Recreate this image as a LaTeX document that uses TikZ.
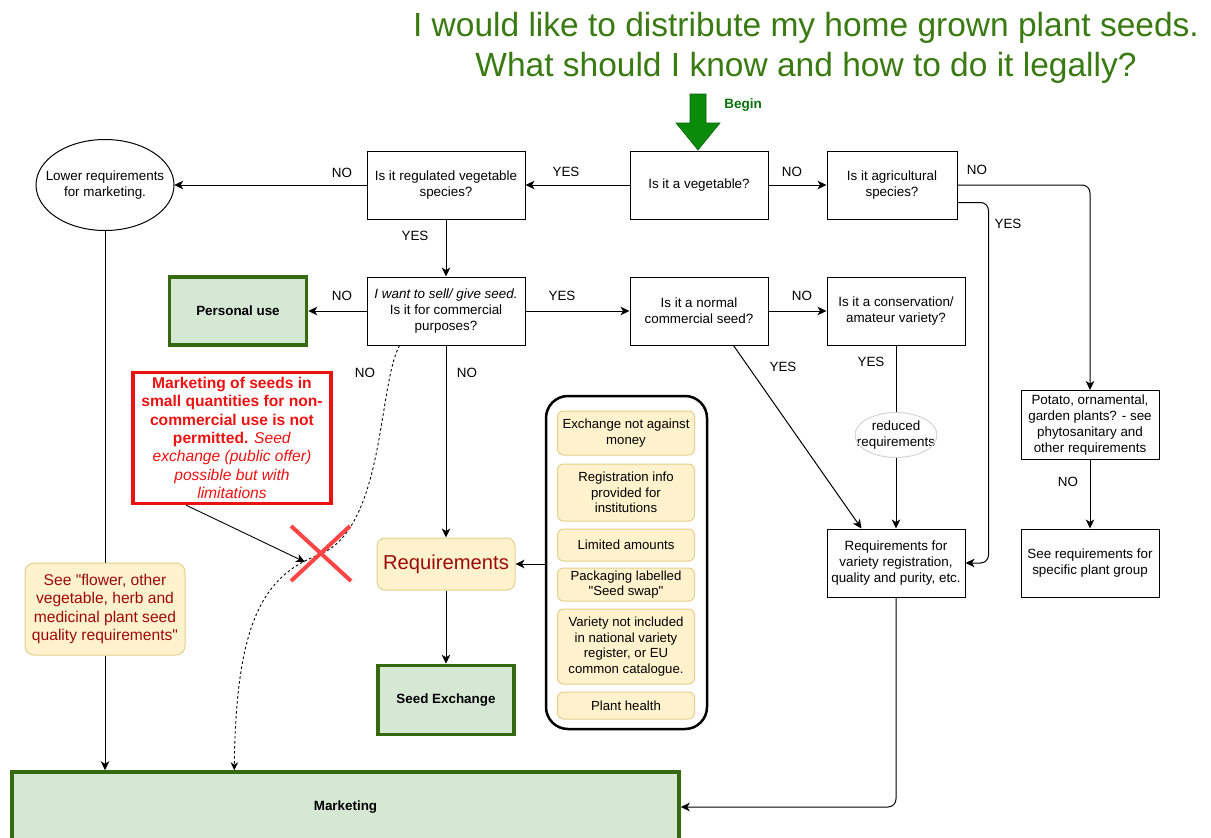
\documentclass[tikz,border=0pt]{standalone}
\usepackage{fontspec}
\setmainfont{Liberation Sans}[Ligatures=TeXOff]
\usetikzlibrary{arrows.meta,shapes.geometric}
\definecolor{tgreen}{HTML}{3A7A12}
\definecolor{agreen}{HTML}{0A8C0A}
\definecolor{adraw}{HTML}{0B5E0B}
\definecolor{gfill}{HTML}{D5E8D4}
\definecolor{gdraw}{HTML}{356A10}
\definecolor{yfill}{HTML}{FFF2CC}
\definecolor{ydraw}{HTML}{E5CF8E}
\definecolor{dred}{HTML}{9B0A0A}
\definecolor{rred}{HTML}{EE1111}
\definecolor{xred}{HTML}{FF4545}
\definecolor{ellg}{HTML}{D4D4D4}
\begin{document}
\begin{tikzpicture}[x=1pt,y=-1pt,
  txt/.style={font=\fontsize{13.4}{16}\selectfont},
  box/.style={txt, draw, line width=1pt, fill=white, align=center, inner sep=2pt},
  lab/.style={txt, inner sep=0pt},
  arr/.style={-{Stealth[length=9pt,width=8.5pt,inset=2.5pt]}, line width=1pt},
  plain/.style={line width=1pt},
  gbox/.style={draw=gdraw, fill=gfill, line width=3.5pt, font=\bfseries\fontsize{13.4}{16}\selectfont, align=center},
  ybox/.style={txt, draw=ydraw, fill=yfill, rounded corners=6pt, line width=1pt, align=center, inner sep=1pt, minimum width=137pt, font=\fontsize{13.2}{15.5}\selectfont}
]
\useasboundingbox (0,0) rectangle (1211,838);

% title
\node[tgreen, align=center, font=\fontsize{33.5}{40}\selectfont] (title) at (806,48)
  {I would like to distribute my home grown plant seeds.\\What should I know and how to do it legally?};

% main question boxes
\node[box, minimum width=138pt, minimum height=68pt] (veg) at (699,185) {Is it a vegetable?};
\node[box, minimum width=158pt, minimum height=68pt] (regveg) at (446,185) {Is it regulated vegetable\\species?};
\node[box, minimum width=130pt, minimum height=68pt] (agri) at (892,185) {Is it agricultural\\species?};
\node[txt, inner sep=0pt, minimum width=138pt, minimum height=91pt, align=center] (lower) at (105,185) {Lower requirements\\for marketing.};
\draw[line width=1pt] (lower.center) ellipse [x radius=69, y radius=45.5];

\node[box, minimum width=158pt, minimum height=68pt] (comm) at (446,311) {\textit{I want to sell/ give seed.}\\Is it for commercial\\purposes?};
\node[gbox, minimum width=137pt, minimum height=68pt] (personal) at (238,311) {Personal use};
\node[box, minimum width=138pt, minimum height=68pt] (normal) at (699,311) {Is it a normal\\commercial seed?};
\node[box, minimum width=138pt, minimum height=68pt] (conserv) at (896,311) {Is it a conservation/\\amateur variety?};

\node[txt, inner sep=0pt, minimum width=82pt, minimum height=45pt, align=center] (reduced) at (896,435) {reduced\\requirements};
\draw[ellg, line width=1pt] (reduced.center) ellipse [x radius=41, y radius=22.5];

\node[box, minimum width=138pt, minimum height=69pt] (potato) at (1090,425) {Potato, ornamental,\\garden plants? - see\\phytosanitary and\\other requirements};
\node[box, minimum width=138pt, minimum height=68pt] (group) at (1090,563) {See requirements for\\specific plant group};
\node[box, minimum width=138pt, minimum height=68pt] (reqvar) at (896,563) {Requirements for\\variety registration,\\quality and purity, etc.};

% red note
\node[draw=rred, line width=3.5pt, fill=white, text=rred, align=center, inner sep=0pt,
      minimum width=198pt, minimum height=131pt,
      font=\fontsize{15.6}{18.3}\selectfont] (redbox) at (232,438)
  {\textbf{Marketing of seeds in}\\\textbf{small quantities for non-}\\\textbf{commercial use is not}\\\textbf{permitted.} \textit{Seed}\\\textit{exchange (public offer)}\\\textit{possible but with}\\\textit{limitations}};

\node[draw=ydraw, fill=yfill, rounded corners=9pt, line width=1pt, text=dred, align=center,
      minimum width=160pt, minimum height=92pt, inner sep=1pt,
      font=\fontsize{15.6}{18.3}\selectfont] (seeflower) at (105,609)
  {See "flower, other\\vegetable, herb and\\medicinal plant seed\\quality requirements"};

\node[draw=ydraw, fill=yfill, rounded corners=8pt, line width=1pt, text=dred,
      minimum width=138pt, minimum height=52pt, font=\fontsize{20.2}{24}\selectfont] (requirements) at (446,564) {Requirements};
\node[gbox, minimum width=136pt, minimum height=69pt] (seedex) at (446,700) {Seed Exchange};

% container of conditions
\node[draw, line width=2.5pt, rounded corners=22pt, minimum width=161pt, minimum height=333pt] (container) at (626.5,562.5) {};
\node[ybox, minimum height=44pt] (c1) at (626,433) {Exchange not against\\money};
\node[ybox, minimum height=57pt] (c2) at (626,492.5) {Registration info\\provided for\\institutions};
\node[ybox, minimum height=32pt] (c3) at (626,545) {Limited amounts};
\node[ybox, minimum height=33pt] (c4) at (626,584.5) {Packaging labelled\\"Seed swap"};
\node[ybox, minimum height=75pt] (c5) at (626,646.5) {Variety not included\\in national variety\\register, or EU\\common catalogue.};
\node[ybox, minimum height=27pt] (c6) at (626,705.5) {Plant health};

% marketing (runs past the lower edge)
\node[gbox, minimum width=667pt, minimum height=90pt, text depth=23pt] (marketing) at (345.5,817) {Marketing};

% begin arrow
\fill[agreen, draw=adraw, line width=0.6pt] (690,94) -- (706,94) -- (706,123) -- (720,123) -- (698,150) -- (676,123) -- (690,123) -- cycle;
\node[text=agreen!80!black, font=\bfseries\fontsize{13.5}{16}\selectfont, inner sep=0pt] (begin) at (743,105) {Begin};

% connectors, first row
\draw[arr] (veg.west) -- (regveg.east);
\node[lab] (l1) at (566,172) {YES};
\draw[arr] (veg.east) -- (agri.west);
\node[lab] (l2) at (792,172) {NO};
\draw[arr] (regveg.west) -- (lower.east);
\node[lab] (l3) at (342,173) {NO};
\draw[arr, rounded corners=8pt] (agri.east) -| (potato.north);
\node[lab] (l4) at (977,170) {NO};
\draw[arr, rounded corners=8pt] ([yshift=17pt]agri.south east) -- ++(31,0) |- (reqvar.east);
\node[lab] (l5) at (1008,224) {YES};

% second row
\draw[arr] (regveg.south) -- (comm.north);
\node[lab] (l6) at (415,236) {YES};
\draw[arr] (comm.west) -- (personal.east);
\node[lab] (l7) at (342,296) {NO};
\draw[arr] (comm.east) -- (normal.west);
\node[lab] (l8) at (562,296) {YES};
\draw[arr] (normal.east) -- (conserv.west);
\node[lab] (l9) at (802,296) {NO};
\draw[arr] ([xshift=-35pt]normal.south east) -- ([xshift=35pt]reqvar.north west);
\node[lab] (l10) at (783,367) {YES};
\draw[plain] (conserv.south) -- (reduced.north);
\draw[arr] (reduced.south) -- (reqvar.north);
\node[lab] (l11) at (871,362) {YES};
\draw[arr] (potato.south) -- (group.north);
\node[lab] (l12) at (1068,482) {NO};
\draw[arr, rounded corners=8pt] (reqvar.south) |- ([yshift=10pt]marketing.east);

% left column
\draw[plain] (lower.south) -- (seeflower.north);
\draw[arr] (seeflower.south) -- (seeflower.south |- marketing.north);

% middle column
\draw[arr] (comm.south) -- (requirements.north);
\node[lab] (l13) at (467,373) {NO};
\draw[arr] (requirements.south) -- (seedex.north);
\draw[arr] (container.west |- requirements.east) -- (requirements.east);

% crossed path
\coordinate (xmark) at (321,554);
\coordinate (xhit) at (305,562);
\draw[arr, line width=0.9pt] ([xshift=55pt]redbox.south west) -- (xhit);
\draw[-{Stealth[length=8pt,width=7.5pt,inset=2.5pt]}, line width=0.9pt, dash pattern=on 2.5pt off 2.5pt]
  ([xshift=33pt]comm.south west) .. controls (378,385) and (385,525) .. (xmark)
  .. controls (262,575) and (236,625) .. ([xshift=224pt]marketing.north west);
\node[lab] (l14) at (365,373) {NO};
\draw[xred, line width=4pt] (291,526) -- (351,581);
\draw[xred, line width=4pt] (350,526) -- (291,581);
\end{tikzpicture}
\end{document}
